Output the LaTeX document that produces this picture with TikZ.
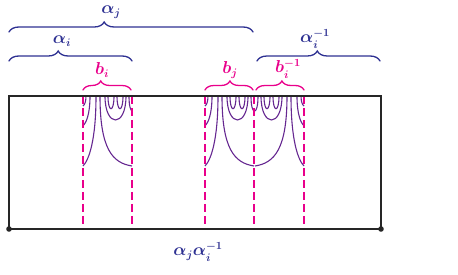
\documentclass[tikz,border=0pt]{standalone}
\usepackage{amsmath,amssymb}
\usepackage{xcolor}
\usepackage{tikz}
\usetikzlibrary{decorations.pathreplacing,calc}
\definecolor{navy}{RGB}{46,49,146}
\definecolor{magenta}{RGB}{233,0,139}
\definecolor{purp}{RGB}{102,40,145}
% one block of geodesics, left cut at x=0, right cut at x=49
\newcommand{\geoblock}{%
  \draw[geo] (3,96) .. controls (3,102) and (1.5,105) .. (0,106);
  \draw[geo] (7,96) .. controls (7,115) and (3,123) .. (0,126);
  \draw[geo] (13,96) .. controls (13,140) and (6,160) .. (0,166);
  \draw[geo] (17,96) .. controls (17,150) and (30,163) .. (49,166);
  \draw[geo] (22,96) .. controls (22,128) and (43,128) .. (43,96);
  \draw[geo] (25,96) .. controls (25,113) and (31,113) .. (31,96);
  \draw[geo] (34,96) .. controls (34,113) and (40,113) .. (40,96);
  \draw[geo] (46,96) .. controls (46,106) and (47.5,110) .. (49,111);
}

\begin{document}
\begin{tikzpicture}[
    x=1pt, y=-1pt,
    brc/.style={decorate, decoration={brace, amplitude=#1}, line width=1.3pt, line cap=round},
    brc/.default=10pt,
    lab/.style={inner sep=1pt, font=\fontsize{16}{18}\selectfont\boldmath},
    geo/.style={purp, line width=1.1pt},
    cut/.style={magenta, line width=1.5pt, dash pattern=on 8pt off 4pt}]
  \useasboundingbox (0,0) rectangle (458,275);
  % curves
  \begin{scope}[shift={(83,0)}] \geoblock \end{scope}
  \begin{scope}[shift={(205,0)}] \geoblock \end{scope}
  \begin{scope}[shift={(304,0)}, xscale=-1] \geoblock \end{scope}
  % cuts
  \foreach \cx in {83,132,205,254,304}
    \draw[cut] (\cx,96) -- (\cx,229);
  % strip
  \coordinate (tl) at (9,96);
  \coordinate (br) at (381,229);
  \draw[black!85, line width=1.3pt] (tl) rectangle (br);
  \fill[black!85] (tl |- br) circle (2.8);
  \fill[black!85] (br) circle (2.8);
  % upper braces
  \draw[brc, navy, decoration={aspect=0.39}] (9,32) -- (253,32);
  \draw[brc, navy, decoration={aspect=0.40}] (9,61) -- (132,61);
  \draw[brc, navy, decoration={aspect=0.49}] (257,61) -- (380,61);
  \draw[brc=9pt, magenta, decoration={aspect=0.37}] (83,90) -- (131,90);
  \draw[brc=9pt, magenta, decoration={aspect=0.52}] (205,90) -- (253,90);
  \draw[brc=9pt, magenta, decoration={aspect=0.54}] (256,90) -- (304,90);
  % labels
  \node[lab, navy] (aj) at (111,12) {$\alpha_j$};
  \node[lab, navy] (ai) at (62,41) {$\alpha_i$};
  \node[lab, navy] (aiinv) at (315,39) {$\alpha_i^{-1}$};
  \node[lab, magenta] (bi) at (102,70) {$b_i$};
  \node[lab, magenta] (bj) at (230,70) {$b_j$};
  \node[lab, magenta] (biinv) at (288,69) {$b_i^{-1}$};
  \node[lab, navy] (ajai) at (198,252) {$\alpha_j\alpha_i^{-1}$};
\end{tikzpicture}
\end{document}
